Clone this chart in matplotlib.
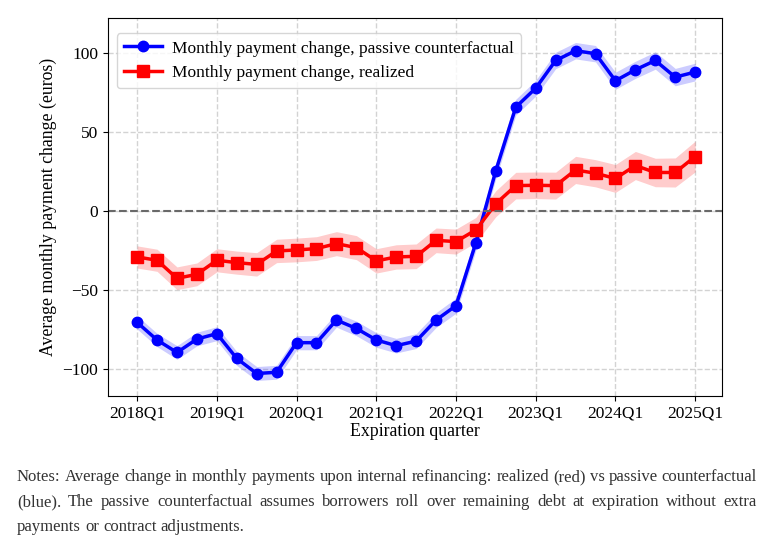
import numpy as np
import matplotlib.pyplot as plt

plt.rcParams['font.family'] = ['Liberation Serif', 'DejaVu Serif']

# quarters 2018Q1 .. 2025Q1
quarters = [f'{y}Q{q}' for y in range(2018, 2026) for q in range(1, 5)][:29]

passive = [-70.5, -81.6, -89.5, -81.0, -77.6, -93.3, -102.8, -102.0, -83.3, -83.3,
           -69.0, -74.3, -81.6, -85.2, -82.3, -69.0, -59.9, -20.0, 25.5, 65.6,
           77.6, 95.1, 101.3, 99.4, 82.3, 89.2, 95.1, 84.6, 87.8]
passive_ci = [4.2, 4.2, 4.3, 4.3, 4.4, 4.4, 4.4, 4.4, 4.5, 4.5,
              4.5, 4.6, 4.6, 4.6, 4.7, 4.7, 4.8, 4.8, 5.0, 5.0,
              5.0, 5.2, 5.2, 5.2, 5.4, 5.4, 5.5, 5.5, 5.6]

realized = [-29.1, -31.2, -42.6, -40.1, -31.2, -32.7, -33.8, -25.3, -24.7, -23.8,
            -20.7, -23.2, -31.6, -29.1, -28.7, -18.6, -19.4, -12.0, 4.6, 16.0,
            16.2, 16.0, 25.9, 23.8, 20.5, 28.7, 24.3, 24.3, 34.4]
realized_ci = [7.0, 7.0, 7.2, 7.2, 7.3, 7.3, 7.4, 7.4, 7.5, 7.5,
               7.6, 7.6, 7.7, 7.7, 7.8, 7.8, 7.9, 7.9, 8.2, 8.4,
               8.4, 8.5, 8.6, 8.6, 8.8, 8.9, 9.0, 9.2, 9.7]

notes = ['Notes: Average change in monthly payments upon internal refinancing: realized (red) vs passive counterfactual',
         '(blue). The passive counterfactual assumes borrowers roll over remaining debt at expiration without extra',
         'payments or contract adjustments.']

x = np.arange(len(quarters))
passive = np.array(passive)
realized = np.array(realized)

fig = plt.figure(figsize=(7.75, 5.44), dpi=100)
ax = fig.add_axes([0.1394, 0.2721, 0.7923, 0.6949])

ax.fill_between(x, passive - np.array(passive_ci), passive + np.array(passive_ci),
                color='blue', alpha=0.2, linewidth=0)
ax.fill_between(x, realized - np.array(realized_ci), realized + np.array(realized_ci),
                color='red', alpha=0.2, linewidth=0)
ax.plot(x, passive, color='blue', marker='o', markersize=7.5, linewidth=2.5,
        label='Monthly payment change, passive counterfactual')
ax.plot(x, realized, color='red', marker='s', markersize=8, linewidth=2.5,
        label='Monthly payment change, realized')
ax.axhline(0, color='dimgray', linestyle='--', linewidth=1.5)

ax.set_xlim(-1.46, 29.35)
ax.set_ylim(-117, 122)
ax.set_yticks([-100, -50, 0, 50, 100])
ax.set_xticks(x[::4])
ax.set_xticklabels(quarters[::4])
ax.tick_params(labelsize=12.5)
ax.grid(True, linestyle='--', color='lightgray', linewidth=1)
ax.set_axisbelow(True)
ax.set_xlabel('Expiration quarter', fontsize=12.8, labelpad=1)
ax.set_ylabel('Average monthly payment change (euros)', fontsize=12.8, labelpad=4)
ax.legend(loc='upper left', bbox_to_anchor=(0.0, 0.982), fontsize=12.5,
          handlelength=2.2, handletextpad=0.6)

# notes below the chart, justified like the source page
renderer = fig.canvas.get_renderer()
x0, x1 = 17, 757
for i, line in enumerate(notes):
    ypos = 1 - (477 + i * 25) / 544
    words = line.split(' ')
    texts = [fig.text(0, ypos, w, fontsize=12, color='#333333', va='center', ha='left')
             for w in words]
    widths = [t.get_window_extent(renderer).width for t in texts]
    if i < len(notes) - 1:
        gap = (x1 - x0 - sum(widths)) / (len(words) - 1)
    else:
        gap = fig.text(0, 0, ' ', fontsize=12).get_window_extent(renderer).width
    pos = x0
    for t, w in zip(texts, widths):
        t.set_x(pos / 775)
        pos += w + gap

fig.savefig('out.png', dpi=100)
